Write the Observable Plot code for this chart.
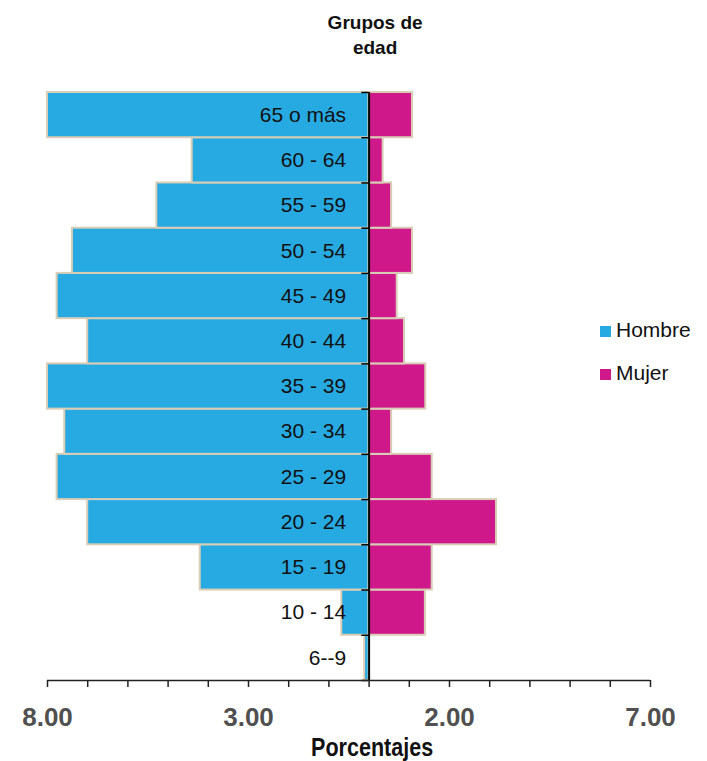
<!DOCTYPE html>
<html>
<head>
<meta charset="utf-8">
<script src="https://cdn.jsdelivr.net/npm/d3@7"></script>
<script src="https://cdn.jsdelivr.net/npm/@observablehq/plot@0.6"></script>
<style>
  body { margin: 0; background: #fff; }
  #wrap { position: relative; width: 707px; height: 761px; }
  .leg { position: absolute; left: 600px; font: 21px "Liberation Sans", Arial, sans-serif; color: #111; white-space: nowrap; }
  .leg span.sw { display: inline-block; width: 11px; height: 11px; margin-right: 5px; vertical-align: 0px; }
</style>
</head>
<body>
<div id="wrap"></div>
<script>
// Age groups, bottom to top
const groups = ["6--9", "10 - 14", "15 - 19", "20 - 24", "25 - 29", "30 - 34", "35 - 39",
                "40 - 44", "45 - 49", "50 - 54", "55 - 59", "60 - 64", "65 o más"];
// Percentages
const hombre = [0.11, 0.68, 4.20, 7.00, 7.76, 7.57, 8.00, 7.00, 7.76, 7.38, 5.28, 4.40, 8.00];
const mujer  = [0.00, 1.40, 1.57, 3.17, 1.57, 0.56, 1.41, 0.88, 0.70, 1.08, 0.56, 0.35, 1.08];
// Axis ticks and labels
const xTicks = d3.range(-8, 8);
const labelTicks = [-8, -3, 2, 7];
const tickLabels = ["8.00", "3.00", "2.00", "7.00"];
const seriesNames = ["Hombre", "Mujer"];
const colors = ["#27a9e1", "#cf188a"];
const border = "#d9cdb6";

const data = groups.map((g, i) => ({group: g, i, hombre: hombre[i], mujer: mujer[i]}));

const chart = Plot.plot({
  width: 707,
  height: 761,
  marginTop: 92,
  marginBottom: 81,
  marginLeft: 47,
  marginRight: 57,
  style: {background: "transparent", overflow: "visible"},
  x: {domain: [-8, 7], axis: null},
  y: {domain: [0, groups.length], axis: null},
  marks: [
    Plot.rectX(data, {x1: 0, x2: d => -d.hombre, y1: d => d.i, y2: d => d.i + 1,
      fill: colors[0], stroke: border, strokeWidth: 2}),
    Plot.rectX(data.filter(d => d.mujer > 0), {x1: 0, x2: d => d.mujer, y1: d => d.i, y2: d => d.i + 1,
      fill: colors[1], stroke: border, strokeWidth: 2}),
    Plot.ruleX([0], {y1: 0, y2: groups.length, stroke: "#000", strokeWidth: 2}),
    Plot.ruleY(d3.range(0, groups.length + 1), {x1: -0.18, x2: 0, stroke: "#000", strokeWidth: 1.5}),
    Plot.ruleY([0], {x1: -8, x2: 7, stroke: "#222", strokeWidth: 1.5}),
    Plot.axisX({ticks: xTicks, tickSize: 7, tickFormat: () => "", label: null, stroke: "#222", strokeWidth: 1.5}),
    Plot.text(data, {x: 0, y: d => d.i + 0.5, text: "group", textAnchor: "end", dx: -23,
      fontSize: 21, fontFamily: "Liberation Sans, Arial, sans-serif", fill: "#111"}),
    Plot.text(labelTicks, {x: d => d, text: (d, i) => tickLabels[i], frameAnchor: "bottom",
      lineAnchor: "middle", dy: 37, fontSize: 26, fontWeight: "bold",
      fontFamily: "Liberation Sans, Arial, sans-serif", fill: "#505050"}),
    Plot.text(["Porcentajes"], {x: 0, frameAnchor: "bottom", lineAnchor: "middle", dy: 67, dx: 3,
      fontSize: 26, fontWeight: "bold", fontFamily: "Liberation Sans, Arial, sans-serif", fill: "#111",
      className: "xlabel"}),
    Plot.text(["Grupos de\nedad"], {x: 0, frameAnchor: "top", lineAnchor: "top", dy: -82, dx: 6,
      lineHeight: 1.35, fontSize: 19, fontWeight: "bold", fontFamily: "Liberation Sans, Arial, sans-serif", fill: "#111"})
  ]
});
// condense the bold axis title as in the reference
chart.querySelectorAll("text").forEach(t => {
  if (t.textContent === "Porcentajes") {
    t.setAttribute("textLength", "122");
    t.setAttribute("lengthAdjust", "spacingAndGlyphs");
  }
});
const wrap = document.getElementById("wrap");
wrap.appendChild(chart);
seriesNames.forEach((n, k) => {
  const div = document.createElement("div");
  div.className = "leg";
  div.style.top = (318 + k * 43) + "px";
  div.innerHTML = `<span class="sw" style="background:${colors[k]}"></span>${n}`;
  wrap.appendChild(div);
});
</script>
</body>
</html>
